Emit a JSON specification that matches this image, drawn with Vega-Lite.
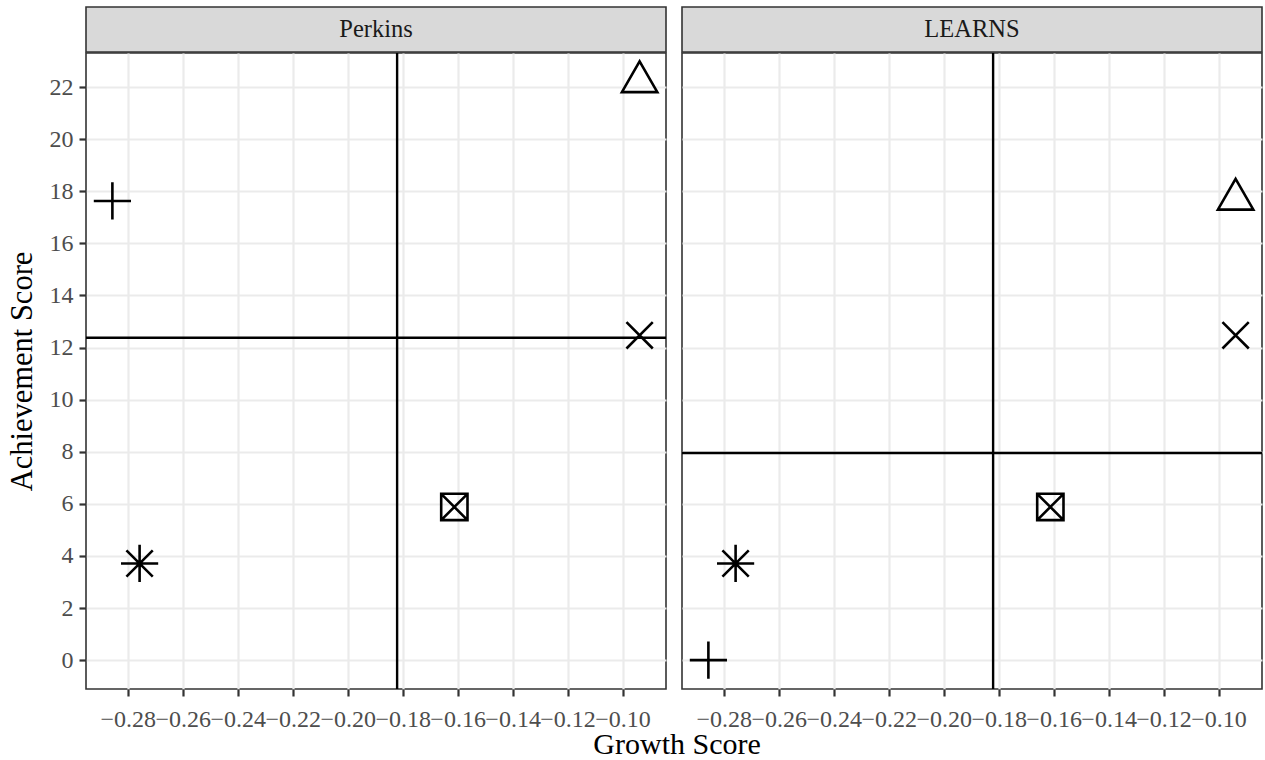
{
  "$schema": "https://vega.github.io/schema/vega-lite/v6.json",
  "background": "white",
  "padding": {"left": 6, "top": 6, "right": 3, "bottom": 2},
  "title": {"text": "Growth Score", "orient": "bottom", "anchor": "middle", "font": "Liberation Serif", "fontSize": 30, "fontWeight": "normal", "color": "#000000", "dx": 42, "offset": -2},
  "datasets": {
    "scores": [
      {"panel": "Perkins", "group": "G1", "growth": -0.2856, "achievement": 17.63},
      {"panel": "Perkins", "group": "G2", "growth": -0.0938, "achievement": 22.2},
      {"panel": "Perkins", "group": "G3", "growth": -0.0938, "achievement": 12.47},
      {"panel": "Perkins", "group": "G4", "growth": -0.1612, "achievement": 5.88},
      {"panel": "Perkins", "group": "G5", "growth": -0.2757, "achievement": 3.71},
      {"panel": "LEARNS", "group": "G1", "growth": -0.2856, "achievement": 0},
      {"panel": "LEARNS", "group": "G2", "growth": -0.0938, "achievement": 17.69},
      {"panel": "LEARNS", "group": "G3", "growth": -0.0938, "achievement": 12.47},
      {"panel": "LEARNS", "group": "G4", "growth": -0.1612, "achievement": 5.88},
      {"panel": "LEARNS", "group": "G5", "growth": -0.2757, "achievement": 3.71}
    ],
    "strips": [{"label": "Perkins"}, {"label": "LEARNS"}]
  },
  "config": {
    "font": "Liberation Serif",
    "view": {"stroke": "#333333", "strokeWidth": 1.6},
    "axis": {
      "grid": true,
      "gridColor": "#EBEBEB",
      "gridWidth": 2.2,
      "domain": false,
      "tickColor": "#333333",
      "tickWidth": 2.2,
      "tickSize": 7,
      "labelFont": "Liberation Serif",
      "labelFontSize": 24,
      "labelColor": "#4D4D4D",
      "labelOverlap": false,
      "titleFont": "Liberation Serif",
      "titleFontSize": 30.5,
      "titleFontWeight": "normal",
      "titleColor": "#000000"
    }
  },
  "hconcat": [
    {
      "vconcat": [
        {
          "width": 580,
          "height": 45,
          "data": {"name": "strips"},
          "transform": [{"filter": "datum.label === 'Perkins'"}],
          "view": {"fill": "#D9D9D9", "stroke": "#333333", "strokeWidth": 1.6},
          "mark": {"type": "text", "baseline": "middle", "align": "center", "fontSize": 24.5, "color": "#1A1A1A", "font": "Liberation Serif"},
          "encoding": {"text": {"field": "label", "type": "nominal"}}
        },
        {
          "width": 580,
          "height": 636,
          "data": {"name": "scores"},
          "transform": [{"filter": "datum.panel === 'Perkins'"}],
          "layer": [
            {
              "mark": {"type": "rule", "color": "#000000", "strokeWidth": 2.4},
              "encoding": {
                "x": {"aggregate": "mean", "field": "growth", "type": "quantitative", "scale": {"domain": [-0.2952, -0.0842], "nice": false, "zero": false},
                  "axis": {"values": [-0.28, -0.26, -0.24, -0.22, -0.2, -0.18, -0.16, -0.14, -0.12, -0.1], "format": ".2f", "title": null, "labelPadding": 11}}
              }
            },
            {
              "mark": {"type": "rule", "color": "#000000", "strokeWidth": 2.4},
              "encoding": {
                "y": {"aggregate": "mean", "field": "achievement", "type": "quantitative", "scale": {"domain": [-1.11, 23.31], "nice": false, "zero": false},
                  "axis": {"values": [0, 2, 4, 6, 8, 10, 12, 14, 16, 18, 20, 22], "title": "Achievement Score", "labelPadding": 6, "titlePadding": 12}}
              }
            },
            {
              "mark": {"type": "point", "filled": false, "color": "#000000", "opacity": 1, "strokeWidth": 2.6, "size": 692},
              "encoding": {
                "x": {"field": "growth", "type": "quantitative", "scale": {"domain": [-0.2952, -0.0842], "nice": false, "zero": false},
                  "axis": {"values": [-0.28, -0.26, -0.24, -0.22, -0.2, -0.18, -0.16, -0.14, -0.12, -0.1], "format": ".2f", "title": null, "labelPadding": 11}},
                "y": {"field": "achievement", "type": "quantitative", "scale": {"domain": [-1.11, 23.31], "nice": false, "zero": false},
                  "axis": {"values": [0, 2, 4, 6, 8, 10, 12, 14, 16, 18, 20, 22], "title": "Achievement Score", "labelPadding": 6, "titlePadding": 12}},
                "shape": {"field": "group", "type": "nominal", "legend": null,
                  "scale": {"domain": ["G1", "G2", "G3", "G4", "G5"],
                    "range": [
                      "M-1.414,0L1.414,0M0,-1.414L0,1.414",
                      "M0,-1.555L1.347,0.778L-1.347,0.778Z",
                      "M-1,-1L1,1M-1,1L1,-1",
                      "M-1,-1L1,-1L1,1L-1,1ZM-1,-1L1,1M-1,1L1,-1",
                      "M-1.414,0L1.414,0M0,-1.414L0,1.414M-1,-1L1,1M-1,1L1,-1"
                    ]}}
              }
            }
          ]
        }
      ],
      "spacing": -4
    },
    {
      "vconcat": [
        {
          "width": 580,
          "height": 45,
          "data": {"name": "strips"},
          "transform": [{"filter": "datum.label === 'LEARNS'"}],
          "view": {"fill": "#D9D9D9", "stroke": "#333333", "strokeWidth": 1.6},
          "mark": {"type": "text", "baseline": "middle", "align": "center", "fontSize": 24.5, "color": "#1A1A1A", "font": "Liberation Serif"},
          "encoding": {"text": {"field": "label", "type": "nominal"}}
        },
        {
          "width": 580,
          "height": 636,
          "data": {"name": "scores"},
          "transform": [{"filter": "datum.panel === 'LEARNS'"}],
          "layer": [
            {
              "mark": {"type": "rule", "color": "#000000", "strokeWidth": 2.4},
              "encoding": {
                "x": {"aggregate": "mean", "field": "growth", "type": "quantitative", "scale": {"domain": [-0.2952, -0.0842], "nice": false, "zero": false},
                  "axis": {"values": [-0.28, -0.26, -0.24, -0.22, -0.2, -0.18, -0.16, -0.14, -0.12, -0.1], "format": ".2f", "title": null, "labelPadding": 11}}
              }
            },
            {
              "mark": {"type": "rule", "color": "#000000", "strokeWidth": 2.4},
              "encoding": {
                "y": {"aggregate": "mean", "field": "achievement", "type": "quantitative", "scale": {"domain": [-1.11, 23.31], "nice": false, "zero": false},
                  "axis": {"values": [0, 2, 4, 6, 8, 10, 12, 14, 16, 18, 20, 22], "title": null, "labels": false, "ticks": false}}
              }
            },
            {
              "mark": {"type": "point", "filled": false, "color": "#000000", "opacity": 1, "strokeWidth": 2.6, "size": 692},
              "encoding": {
                "x": {"field": "growth", "type": "quantitative", "scale": {"domain": [-0.2952, -0.0842], "nice": false, "zero": false},
                  "axis": {"values": [-0.28, -0.26, -0.24, -0.22, -0.2, -0.18, -0.16, -0.14, -0.12, -0.1], "format": ".2f", "title": null, "labelPadding": 11}},
                "y": {"field": "achievement", "type": "quantitative", "scale": {"domain": [-1.11, 23.31], "nice": false, "zero": false},
                  "axis": {"values": [0, 2, 4, 6, 8, 10, 12, 14, 16, 18, 20, 22], "title": null, "labels": false, "ticks": false}},
                "shape": {"field": "group", "type": "nominal", "legend": null,
                  "scale": {"domain": ["G1", "G2", "G3", "G4", "G5"],
                    "range": [
                      "M-1.414,0L1.414,0M0,-1.414L0,1.414",
                      "M0,-1.555L1.347,0.778L-1.347,0.778Z",
                      "M-1,-1L1,1M-1,1L1,-1",
                      "M-1,-1L1,-1L1,1L-1,1ZM-1,-1L1,1M-1,1L1,-1",
                      "M-1.414,0L1.414,0M0,-1.414L0,1.414M-1,-1L1,1M-1,1L1,-1"
                    ]}}
              }
            }
          ]
        }
      ],
      "spacing": -4
    }
  ],
  "spacing": 12
}
